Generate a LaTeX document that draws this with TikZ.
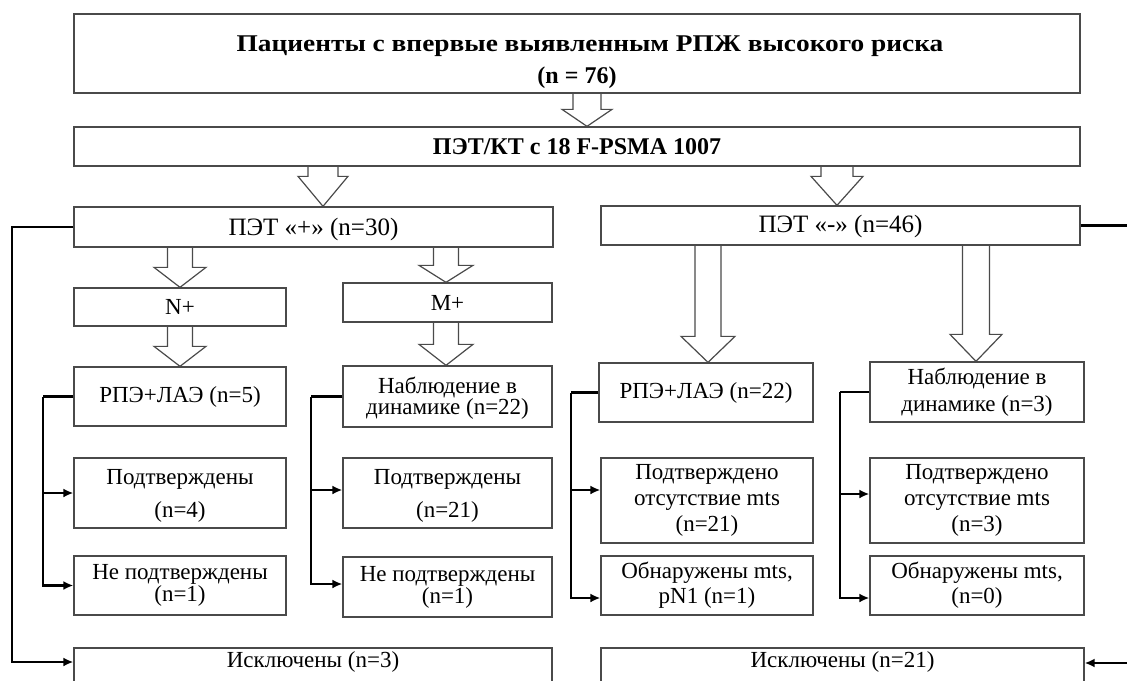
\documentclass[tikz,border=0pt]{standalone}
\usepackage{fontspec}
\setmainfont{Liberation Serif}
\newfontfamily\widefont{Liberation Serif}[FakeStretch=1.14]
\usetikzlibrary{arrows.meta,calc}

\definecolor{framegray}{HTML}{4A4A4A}

\tikzset{
  box/.style={draw=framegray, line width=1.3pt, inner sep=0pt, align=center,
    font=\fontsize{23}{26}\selectfont},
  lh/.style={font=\fontsize{23}{#1}\selectfont},
  wire/.style={line width=2.2pt},
  lead/.style={line width=2.2pt, -{Latex[length=10pt,width=9pt]}},
  hollowarr/.style={draw=framegray, line width=1.2pt, line join=miter},
}

% x, from, to, head length, shaft half width, head half width
\newcommand{\hollow}[6]{%
  \draw[hollowarr] let \p1=(#2.south), \p2=(#3.north) in
    (#1pt-#5pt,\y1) -- (#1pt-#5pt,\y2+#4pt) -- (#1pt-#6pt,\y2+#4pt) -- (#1pt,\y2)
    -- (#1pt+#6pt,\y2+#4pt) -- (#1pt+#5pt,\y2+#4pt) -- (#1pt+#5pt,\y1);}

\begin{document}
\begin{tikzpicture}[x=1pt, y=-1pt]
  \clip (0,0) rectangle (1127,680);
  \fill[white] (0,0) rectangle (1127,680);

  \node[box, minimum width=1006, minimum height=79,
    font=\fontsize{24}{32}\selectfont\bfseries] (top) at (577,53.5)
    {\raisebox{-8pt}[\height][\depth]{\begin{tabular}{@{}c@{}}%
      \hspace*{26pt}{\widefont\bfseries Пациенты с впервые выявленным РПЖ высокого риска}\\
      (n = 76)\end{tabular}}};
  \node[box, minimum width=1006, minimum height=39,
    font=\fontsize{24}{26}\selectfont\bfseries] (pet) at (577,146.5)
    {ПЭТ/КТ с 18 F-PSMA 1007};

  \node[box, lh=27, minimum width=479, minimum height=40] (petpos) at (313.5,227)
    {\raisebox{-2pt}[\height][\depth]{\fontsize{25}{27}\selectfont ПЭТ «+» (n=30)}};
  \node[box, lh=27, minimum width=479, minimum height=39] (petneg) at (840.5,225.5)
    {\raisebox{-1pt}[\height][\depth]{\fontsize{25}{27}\selectfont ПЭТ «-» (n=46)}};

  \node[box, minimum width=212, minimum height=38] (npos) at (180,307) {N+};
  \node[box, minimum width=209, minimum height=39] (mpos) at (447.5,302.5) {M+};

  \node[box, minimum width=212, minimum height=59] (rpe1) at (180,396.5) {РПЭ+ЛАЭ (n=5)};
  \node[box, lh=21, minimum width=209, minimum height=61] (obs1) at (447.5,396.5)
    {\raisebox{-2pt}[\height][\depth]{Наблюдение в}\\\raisebox{-2pt}[\height][\depth]{динамике (n=22)}};
  \node[box, minimum width=214, minimum height=59] (rpe2) at (706,392.5) {РПЭ+ЛАЭ (n=22)};
  \node[box, lh=27, minimum width=214, minimum height=60] (obs2) at (977,392)
    {Наблюдение в\\динамике (n=3)};

  \node[box, lh=33, minimum width=212, minimum height=70] (conf1) at (180,493)
    {\raisebox{-3pt}[\height][\depth]{Подтверждены}\\\raisebox{-3pt}[\height][\depth]{(n=4)}};
  \node[box, lh=22, minimum width=212, minimum height=59] (nconf1) at (180,585.5)
    {Не подтверждены\\(n=1)};
  \node[box, lh=33, minimum width=209, minimum height=70] (conf2) at (447.5,493)
    {\raisebox{-3pt}[\height][\depth]{Подтверждены}\\\raisebox{-3pt}[\height][\depth]{(n=21)}};
  \node[box, lh=22, minimum width=209, minimum height=60] (nconf2) at (447.5,587)
    {Не подтверждены\\(n=1)};

  \node[box, lh=26, minimum width=212, minimum height=85] (abs1) at (707,500.5)
    {Подтверждено\\отсутствие mts\\(n=21)};
  \node[box, lh=25, minimum width=212, minimum height=59] (det1) at (707,585.5)
    {Обнаружены mts,\\pN1 (n=1)};
  \node[box, lh=26, minimum width=214, minimum height=85] (abs2) at (977,500.5)
    {Подтверждено\\отсутствие mts\\(n=3)};
  \node[box, lh=25, minimum width=214, minimum height=59] (det2) at (977,585.5)
    {Обнаружены mts,\\(n=0)};

  \node[box, minimum width=478, minimum height=42] (excl1) at (313,669)
    {\raisebox{7pt}[\height][\depth]{Исключены (n=3)}};
  \node[box, minimum width=483, minimum height=42] (excl2) at (842.5,669)
    {\raisebox{7pt}[\height][\depth]{Исключены (n=21)}};

  \hollow{587}{top}{pet}{17}{14}{25}
  \hollow{323}{pet}{petpos}{30}{15}{25}
  \hollow{837}{pet}{petneg}{29}{16}{26}
  \hollow{180}{petpos}{npos}{20}{12.5}{26}
  \hollow{446}{petpos}{mpos}{17}{12.5}{27}
  \hollow{180}{npos}{rpe1}{20}{12.5}{26}
  \hollow{446}{mpos}{obs1}{21}{12.5}{27}
  \hollow{708}{petneg}{rpe2}{26}{13}{27}
  \hollow{976}{petneg}{obs2}{27}{13.5}{26}

  \draw[lead] (petpos.west) -| ([xshift=-61pt,yshift=7pt]excl1.west) -- ([yshift=7pt]excl1.west);
  \draw[lead] (petneg.east) -| ([xshift=56pt,yshift=6pt]excl2.east) -- ([yshift=6pt]excl2.east);

  \draw[wire] (rpe1.west) -- ++(-30,0) coordinate (bus1);
  \draw[lead] (bus1) |- (conf1.west);
  \draw[lead] (bus1) |- (nconf1.west);

  \draw[wire] (obs1.west) -- ++(-31,0) coordinate (bus2);
  \draw[lead] (bus2) |- ([yshift=3pt]conf2.west);
  \draw[lead] (bus2) |- ([yshift=3pt]nconf2.west);

  \draw[wire] (rpe2.west) -- ++(-27,0) coordinate (bus3);
  \draw[lead] (bus3) |- ([yshift=10.5pt]abs1.west);
  \draw[lead] (bus3) |- ([yshift=-12.5pt]det1.west);

  \draw[wire] (obs2.west) -- ++(-29,0) coordinate (bus4);
  \draw[lead] (bus4) |- ([yshift=6.5pt]abs2.west);
  \draw[lead] (bus4) |- ([yshift=-12.5pt]det2.west);
\end{tikzpicture}
\end{document}
